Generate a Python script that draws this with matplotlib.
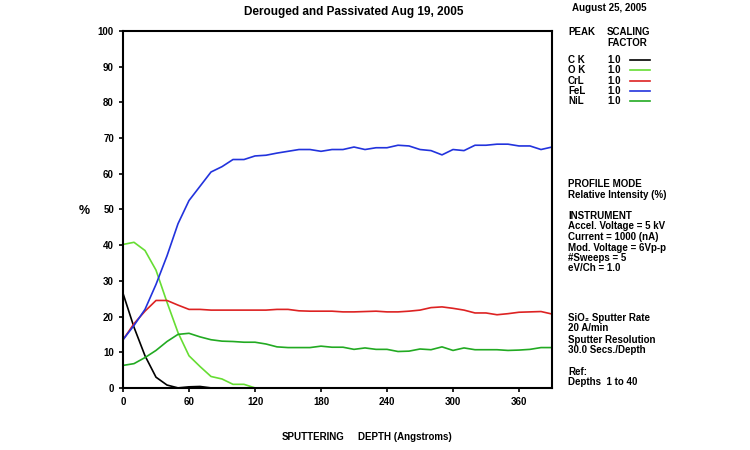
import matplotlib.pyplot as plt
import numpy as np

plt.rcParams['font.family'] = ['Liberation Sans', 'DejaVu Sans']
plt.rcParams['font.weight'] = 'bold'

depth = np.arange(0, 400, 10)

ck = [26.5, 17, 9, 3, 0.8, 0, 0.3, 0.4, 0, 0] + [0] * 30
ok = [40.2, 40.8, 38.5, 33, 24, 15.5, 9, 6, 3.2, 2.5, 1, 1, 0] + [0] * 27
crl = [13.5, 18, 21.5, 24.5, 24.5, 23.2, 22, 22, 21.8, 21.8,
       21.8, 21.8, 21.8, 21.8, 22, 22, 21.6, 21.5, 21.5, 21.5,
       21.3, 21.3, 21.4, 21.5, 21.3, 21.3, 21.5, 21.8, 22.5, 22.7,
       22.3, 21.8, 21, 21, 20.5, 20.8, 21.2, 21.3, 21.4, 20.7]
fel = [13.5, 17.5, 22, 29, 37, 46, 52.5, 56.5, 60.5, 62,
       64, 64, 65, 65.2, 65.8, 66.3, 66.8, 66.8, 66.3, 66.8,
       66.8, 67.5, 66.8, 67.3, 67.3, 68, 67.8, 66.8, 66.5, 65.3,
       66.8, 66.5, 68, 68, 68.3, 68.3, 67.8, 67.8, 66.8, 67.5]
nil = [6.3, 6.8, 8.5, 10.5, 13, 15, 15.3, 14.3, 13.5, 13.1,
       13, 12.8, 12.8, 12.3, 11.5, 11.3, 11.3, 11.3, 11.7, 11.4,
       11.4, 10.8, 11.2, 10.8, 10.8, 10.2, 10.3, 10.9, 10.7, 11.5,
       10.5, 11.2, 10.7, 10.7, 10.7, 10.5, 10.6, 10.8, 11.3, 11.3]

peaks = ['C K', 'O K', 'CrL', 'FeL', 'NiL']
colors = ['#000000', '#66dd33', '#dd2222', '#2233dd', '#22aa22']
series = [ck, ok, crl, fel, nil]

fig = plt.figure(figsize=(7.5, 4.5), dpi=100)
ax = fig.add_axes([0.164, 0.138, 0.572, 0.793])

for vals, c in zip(series, colors):
    ax.plot(depth, vals, color=c, lw=1.2)

ax.set_xlim(0, 390)
ax.set_ylim(0, 100)
ax.set_xticks(np.arange(0, 361, 60))
ax.set_yticks(np.arange(0, 101, 10))
ax.tick_params(labelsize=7, length=3, width=1.2)
for s in ax.spines.values():
    s.set_linewidth(1.5)

fig.text(0.113, 0.53, '%', fontsize=9, ha='center', va='center')
fig.text(0.417, 0.03, 'SPUTTERING', fontsize=7, ha='center', va='center')
fig.text(0.54, 0.03, 'DEPTH (Angstroms)', fontsize=7, ha='center', va='center')
fig.text(0.472, 0.973, 'Derouged and Passivated Aug 19, 2005', fontsize=8.5,
         ha='center', va='center')
fig.text(0.763, 0.982, 'August 25, 2005', fontsize=7, ha='left', va='center')

# legend panel
x1, x2 = 568 / 750, 607 / 750
fig.text(x1, 1 - 32 / 450, 'PEAK', fontsize=7, va='center')
fig.text(x2, 1 - 32 / 450, 'SCALING', fontsize=7, va='center')
fig.text(x2, 1 - 43 / 450, 'FACTOR', fontsize=7, va='center')
for i, (p, c) in enumerate(zip(peaks, colors)):
    y = 1 - (60 + i * 10.3) / 450
    fig.text(x1, y, p, fontsize=7, va='center')
    fig.text(x2, y, '1.0', fontsize=7, va='center')
    fig.add_artist(plt.Line2D([630 / 750, 650 / 750], [y, y], color=c, lw=1.2))

info = [
    (184, 'PROFILE MODE'),
    (195, 'Relative Intensity (%)'),
    (216, 'INSTRUMENT'),
    (226, 'Accel. Voltage = 5 kV'),
    (237, 'Current = 1000 (nA)'),
    (248, 'Mod. Voltage = 6Vp-p'),
    (258, '#Sweeps = 5'),
    (268, 'eV/Ch = 1.0'),
    (318, 'SiO\u2082 Sputter Rate'),
    (328, '20 A/min'),
    (340, 'Sputter Resolution'),
    (350, '30.0 Secs./Depth'),
    (372, 'Ref:'),
    (382, 'Depths  1 to 40'),
]
for yy, t in info:
    fig.text(x1, 1 - yy / 450, t, fontsize=7, va='center')

plt.savefig('out.png', dpi=100)
